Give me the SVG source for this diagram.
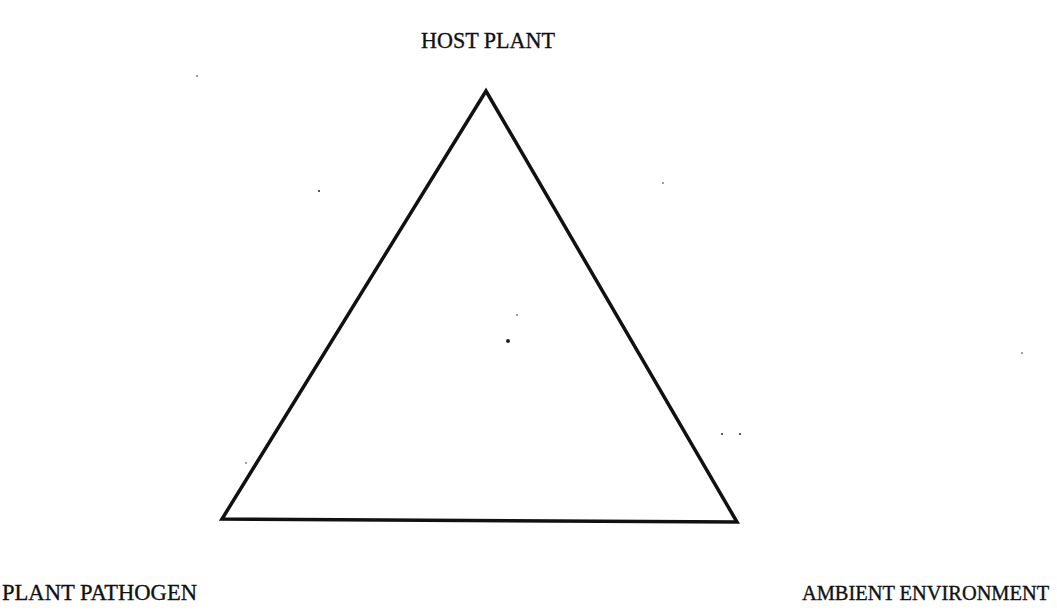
<svg xmlns="http://www.w3.org/2000/svg" width="1057" height="614" viewBox="0 0 1057 614">
<style>
.lbl{font-family:"Liberation Serif","Times New Roman",serif;font-size:23px;fill:#111;stroke:#111;stroke-width:0.35;}
.edge{stroke:#111;stroke-width:3.5;fill:none;stroke-linejoin:miter;}
.spk{fill:#222;}
</style>
<rect width="1057" height="614" fill="#fff"/>
<g id="connectors">
<path class="edge" d="M486,91 L222,519 L737,522 Z"/>
</g>
<g id="host-plant">
<text class="lbl" x="421" y="48" textLength="134" lengthAdjust="spacingAndGlyphs">HOST PLANT</text>
</g>
<g id="plant-pathogen">
<text class="lbl" x="2" y="600" textLength="195" lengthAdjust="spacingAndGlyphs">PLANT PATHOGEN</text>
</g>
<g id="ambient-environment">
<text class="lbl" x="802" y="600" style="font-size:20.4px">AMBIENT ENVIRONMENT</text>
</g>
<g id="specks">
<circle class="spk" cx="508" cy="341" r="2"/>
<circle class="spk" cx="319" cy="191" r="1"/>
<circle class="spk" cx="663" cy="183" r="0.8"/>
<circle class="spk" cx="517" cy="315" r="0.8"/>
<circle class="spk" cx="197" cy="76" r="0.8"/>
<circle class="spk" cx="722" cy="434" r="1"/>
<circle class="spk" cx="740" cy="434" r="1"/>
<circle class="spk" cx="1022" cy="353" r="0.8"/>
<circle class="spk" cx="246" cy="463" r="0.8"/>
</g>
</svg>
